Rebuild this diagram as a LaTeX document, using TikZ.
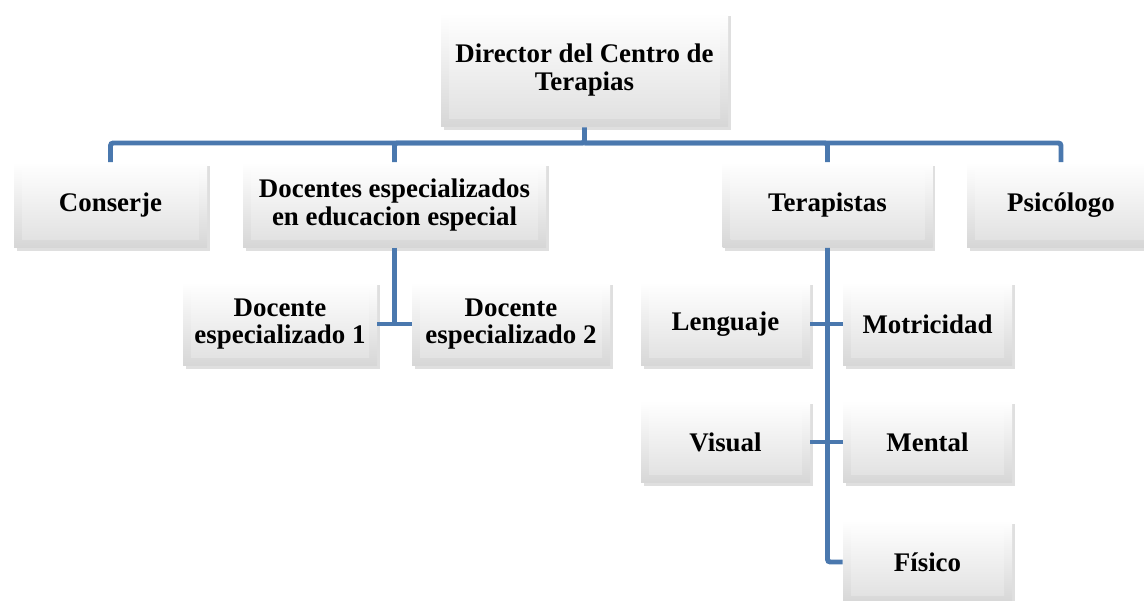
\documentclass[tikz,border=0pt]{standalone}
\usepackage{fontspec}
\setmainfont{Liberation Serif}
\usepackage{tikz}
\usepackage{xcolor}
\usetikzlibrary{shadows,positioning,calc}

\definecolor{linkblue}{HTML}{4A78AE}

\begin{document}
\begin{tikzpicture}[
    box/.style={rectangle, align=center, inner sep=2pt,
        font=\bfseries\fontsize{15.3}{15.8}\selectfont,
        top color=white, bottom color=gray!32,
        drop shadow={shadow xshift=0.5mm, shadow yshift=-0.7mm, opacity=0.25},
        path picture={\shade[top color=white, bottom color=gray!25]
            ([shift={(0.16,-0.16)}]path picture bounding box.north west) rectangle
            ([shift={(-0.16,0.16)}]path picture bounding box.south east);}},
    link/.style={draw=linkblue, line width=2.8pt, rounded corners=1.5pt}
]
    \useasboundingbox (0,0) rectangle (22.88,-12.02);

    % Top box
    \node[box, minimum width=5.74cm, minimum height=2.28cm] (dir) at (11.69,-1.40) {Director del Centro de\\Terapias};
    \coordinate (bar) at (11.69,-2.86);

    % First level
    \node[box, minimum width=3.86cm, minimum height=1.70cm] (cons) at (2.21,-4.10) {Conserje};
    \node[box, minimum width=6.06cm, minimum height=1.70cm] (doc) at (7.89,-4.10) {Docentes especializados\\en educacion especial};
    \node[box, minimum width=4.20cm, minimum height=1.70cm] (ter) at (16.55,-4.10) {Terapistas};
    \node[box, minimum width=3.76cm, minimum height=1.70cm] (psi) at (21.22,-4.10) {Psicólogo};

    % Docentes
    \node[box, minimum width=3.88cm, minimum height=1.68cm] (doc1) at (5.60,-6.48) {Docente\\especializado 1};
    \node[box, minimum width=3.96cm, minimum height=1.68cm] (doc2) at (10.22,-6.48) {Docente\\especializado 2};

    % Terapistas
    \node[box, minimum width=3.38cm, minimum height=1.68cm] (len) at (14.51,-6.48) {Lenguaje};
    \node[box, minimum width=3.38cm, minimum height=1.68cm] (mot) at (18.55,-6.48) {Motricidad};
    \node[box, minimum width=3.38cm, minimum height=1.64cm] (vis) at (14.51,-8.84) {Visual};
    \node[box, minimum width=3.38cm, minimum height=1.64cm] (men) at (18.55,-8.84) {Mental};
    \node[box, minimum width=3.38cm, minimum height=1.66cm] (fis) at (18.55,-11.24) {Físico};

    % Connectors from the director
    \draw[link] (dir.south) -- (bar) -| (cons.north);
    \draw[link] (bar) -| (doc.north);
    \draw[link] (bar) -| (ter.north);
    \draw[link] (bar) -| (psi.north);

    % Connectors below
    \draw[link] (doc.south) -- (doc.south |- doc1.east);
    \draw[link] (doc1.east) -- (doc2.west);
    \draw[link] (ter.south) -- (ter.south |- fis.west) -- (fis.west);
    \draw[link] (len.east) -- (mot.west);
    \draw[link] (vis.east) -- (men.west);
\end{tikzpicture}
\end{document}
